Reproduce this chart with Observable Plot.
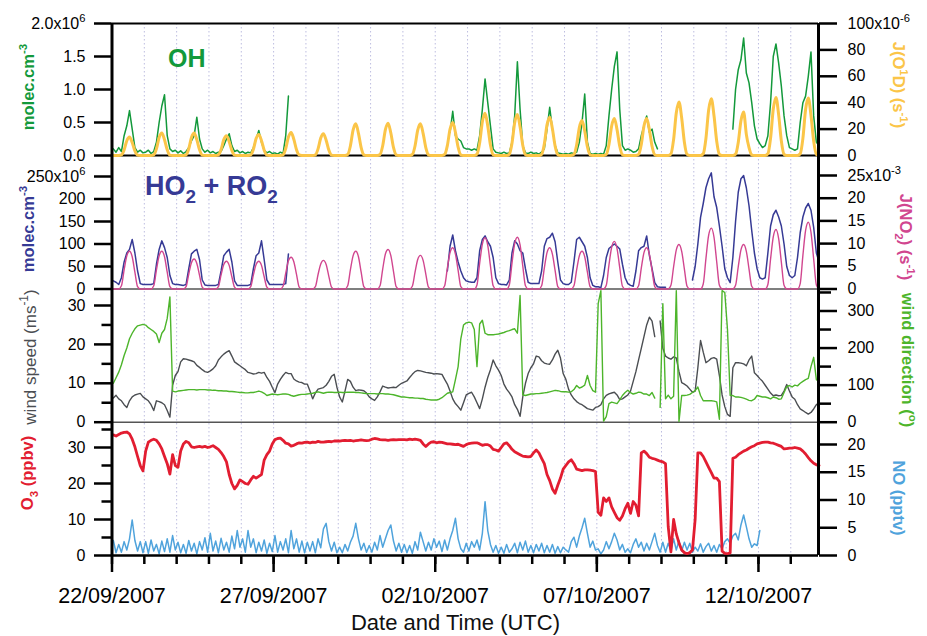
<!DOCTYPE html>
<html><head><meta charset="utf-8">
<script src="https://cdn.jsdelivr.net/npm/d3@7"></script>
<script src="https://cdn.jsdelivr.net/npm/@observablehq/plot@0.6"></script>
<style>
body{margin:0;background:#fff;}
#chart{position:relative;width:927px;height:636px;}
#chart svg{position:absolute;left:0;top:0;}
</style></head><body><div id="chart"></div>
<script>
const _ = null;
// time base: samples every 2 hours starting 22/09/2007 01:00 UTC, 12 per day
const startTime = Date.UTC(2007, 8, 22, 1);
const stepHours = 2;
const xStart = "2007-09-22T00:00Z", xEnd = "2007-10-13T20:35Z";
const xMajorTicks = ["2007-09-22","2007-09-27","2007-10-02","2007-10-07","2007-10-12"];
const xDayTicks = ["2007-09-22","2007-09-23","2007-09-24","2007-09-25","2007-09-26","2007-09-27","2007-09-28","2007-09-29","2007-09-30","2007-10-01","2007-10-02","2007-10-03","2007-10-04","2007-10-05","2007-10-06","2007-10-07","2007-10-08","2007-10-09","2007-10-10","2007-10-11","2007-10-12","2007-10-13"];

// OH (x10^6 molec cm-3)
const ohDays = [
[0.10,0.05,0.12,0.06,0.30,0.45,0.68,0.40,0.12,0.05,0.08,0.04],
[0.05,0.08,0.03,0.06,0.20,0.50,0.75,0.92,0.30,0.10,0.06,0.08],
[0.04,0.07,0.03,0.06,0.12,0.22,0.30,0.58,0.25,0.10,0.05,0.08],
[0.04,0.06,0.03,0.05,0.06,0.15,0.25,0.33,0.15,0.06,0.08,0.04],
[0.06,0.03,0.05,0.04,0.12,0.25,0.38,0.20,0.08,0.04,0.06,0.03],
[0.04,0.02,0.05,0.03,0.30,0.90,_,_,_,_,_,_],
[_,_,_,_,_,_,_,_,_,_,_,_],
[_,_,_,_,_,_,_,_,_,_,_,_],
[_,_,_,_,_,_,_,_,_,_,_,_],
[_,_,_,_,_,_,_,_,_,_,_,_],
[_,_,_,_,_,0.35,0.67,0.30,0.25,0.22,0.12,0.10],
[0.10,0.08,0.10,0.08,0.30,0.70,1.16,0.80,0.45,0.10,0.05,0.04],
[0.03,0.05,0.03,0.04,0.20,0.60,1.42,0.70,0.15,0.04,0.03,0.05],
[0.03,0.04,0.02,0.05,0.10,0.40,0.73,0.40,0.15,0.04,0.03,0.02],
[0.03,0.02,0.04,0.03,0.05,0.20,0.50,0.93,0.20,0.03,0.02,0.03],
[0.02,0.03,0.02,0.15,0.60,1.00,1.35,1.57,0.70,0.15,0.08,0.10],
[0.08,0.05,0.06,0.10,0.30,0.45,0.60,0.35,0.40,0.20,0.10,_],
[_,_,_,_,_,_,_,_,_,_,_,_],
[_,_,_,_,_,_,_,_,_,_,_,_],
[_,_,0.40,1.00,1.30,1.45,1.78,1.25,1.10,0.80,0.45,0.25],
[0.18,0.12,0.15,0.30,0.80,1.50,1.69,1.40,1.05,0.60,0.30,0.12],
[0.10,0.08,0.10,0.50,0.80,0.90,1.20,1.57,0.60,0.20,0.15]];

// J(O1D) (x10^-6 s-1)
const jo1dDays = [
[0,0,0,0.4,4.2,11.2,14,9.8,3.5,0.3,0,0],
[0,0,0,0.5,5.1,13.6,17,11.9,4.3,0.3,0,0],
[0,0,0,0.5,5.1,13.6,17,11.9,4.3,0.3,0,0],
[0,0,0,0.5,4.5,12,15,10.5,3.8,0.3,0,0],
[0,0,0,0.5,4.8,12.8,16,11.2,4,0.3,0,0],
[0,0,0,0.5,5.3,14,17.5,12.3,4.4,0.4,0,0],
[0,0,0,0.5,5,13.2,16.5,11.6,4.1,0.3,0,0],
[0,0,0,0.7,7.2,19.2,24,16.8,6,0.5,0,0],
[0,0,0,0.7,7.4,19.6,24.5,17.2,6.1,0.5,0,0],
[0,0,0,0.7,7.2,19.2,24,16.8,6,0.5,0,0],
[0,0,0,0.8,7.5,20,25,17.5,6.3,0.5,0,0],
[0,0,0,1,9.6,25.6,32,22.4,8,0.6,0,0],
[0,0,0,0.9,9.3,24.8,31,21.7,7.8,0.6,0,0],
[0,0,0,0.9,8.7,23.2,29,20.3,7.3,0.6,0,0],
[0,0,0,0.8,8,21.2,26.5,18.6,6.6,0.5,0,0],
[0,0,0,0.8,8.4,22.4,28,19.6,7,0.6,0,0],
[0,0,0,0.8,8.4,22.4,28,19.6,7,0.6,0,0],
[0,0,0,1.2,12.2,32.4,40.5,28.4,10.1,0.8,0,0],
[0,0,0,1.3,12.9,34.4,43,30.1,10.8,0.9,0,0],
[0,0,0,1,9.9,26.4,33,16,6,0.5,0,0],
[0,0,0,1.3,13.2,35.2,44,30.8,11,0.9,0,0],
[0,0,0,1.3,13,34.8,43.5,30.5,10.9,0.9,0]];

// HO2 + RO2 (x10^6 molec cm-3)
const ho2Days = [
[18,15,10,25,60,80,88,110,80,40,12,10],
[10,10,10,12,55,88,107,92,70,30,12,10],
[10,9,8,10,45,78,84,88,65,20,9,8],
[8,8,8,10,40,74,82,88,60,18,8,8],
[8,8,8,10,45,74,80,107,65,20,10,10],
[10,10,10,10,12,78,_,_,_,_,_,_],
[_,_,_,_,_,_,_,_,_,_,_,_],
[_,_,_,_,_,_,_,_,_,_,_,_],
[_,_,_,_,_,_,_,_,_,_,_,_],
[_,_,_,_,_,_,_,_,_,_,_,_],
[_,_,_,_,40,95,120,85,60,40,25,18],
[16,15,15,25,85,110,118,105,95,70,25,12],
[10,10,9,20,80,107,100,85,80,45,15,12],
[12,12,12,40,95,112,115,124,105,60,20,12],
[10,10,15,60,110,115,105,95,70,25,8,5],
[5,3,30,70,90,95,100,95,89,55,25,12],
[8,6,40,85,92,95,118,75,45,14,5,4],
[4,4,_,_,_,_,_,_,_,_,_,20],
[50,100,159,190,225,245,258,205,181,140,95,45],
[25,14,70,150,215,245,252,225,185,130,80,45],
[25,22,25,80,140,165,175,160,140,100,50,30],
[25,30,70,125,160,180,190,175,137,80,60]];

// J(NO2) (x10^-3 s-1)
const jno2Days = [
[0,0,0,0.7,4.2,7.3,8.3,7.1,3.7,0.5,0,0],
[0,0,0,0.7,4.2,7.3,8.3,7.1,3.7,0.5,0,0],
[0,0,0,0.5,3.3,5.8,6.6,5.6,3,0.4,0,0],
[0,0,0,0.5,3.1,5.4,6.1,5.2,2.7,0.4,0,0],
[0,0,0,0.5,3.1,5.4,6.1,5.2,2.7,0.4,0,0],
[0,0,0,0.6,3.5,6.2,7,6,3.2,0.4,0,0],
[0,0,0,0.5,3.2,5.5,6.3,5.4,2.8,0.4,0,0],
[0,0,0,0.7,4.2,7.3,8.3,7.1,3.7,0.5,0,0],
[0,0,0,0.7,4.4,7.7,8.7,7.4,3.9,0.5,0,0],
[0,0,0,0.6,3.7,6.5,7.4,6.3,3.3,0.4,0,0],
[0,0,0,0.7,4.6,8,9.1,7.7,4.1,0.5,0,0],
[0,0,0,0.9,5.7,9.9,11.3,9.6,5.1,0.7,0,0],
[0,0,0,0.9,5.7,10,11.4,9.7,5.1,0.7,0,0],
[0,0,0,0.7,4.6,8,9.1,7.7,4.1,0.5,0,0],
[0,0,0,0.7,4.2,7.3,8.3,7.1,3.7,0.5,0,0],
[0,0,0,0.8,5.3,9.2,10.5,8.9,4.7,0.6,0,0],
[0,0,0,0.7,4.6,8,9.1,7.7,4.1,0.5,0,0],
[0,0,0,0.8,4.9,8.6,9.8,8.3,4.4,0.6,0,0],
[0,0,0,1.1,6.7,11.8,13.4,11.4,6,0.8,0,0],
[0,0,0,0.8,4.9,8.6,9.8,8.3,4.4,0.6,0,0],
[0,0,0,1,6.6,11.5,13.1,11.1,5.9,0.8,0,0],
[0,0,0,1.2,7.4,12.9,14.7,12.5,6.6,0.9,0]];

// wind speed (m s-1)
const windSpeedDays = [
[6.2,6.9,6,5.5,4.5,3.8,5.5,6.5,7,7.2,7.4,6.5],
[6,5.5,4.5,3,5.5,5.3,5,4.5,3,1.3,9.5,12],
[13,15.5,16.3,16.2,16,15.8,15.5,14.6,14.1,13.5,13,12.8],
[13.2,13.7,14.5,16,16.8,17.5,18,18.4,17,15.5,15,14.5],
[14,13.5,12.8,12.6,12.4,12.5,12.8,12.6,12.8,11.5,10.5,9],
[7.6,9.8,11,12,12.8,12.5,12.5,11.1,10.6,10.3,10.2,9.8],
[9.8,8,6,7.5,8.5,8.7,8.9,9.5,10.5,11.8,12.3,9],
[6.5,5.2,8,11,10.5,9,8.1,8.3,8.2,8.1,7.5,6.5],
[6,5.6,6.5,7.8,9.3,9,8.8,8.9,9,8.9,9.5,10],
[10.3,10.6,11.5,12.3,13,13.3,13.2,13,12.8,12.7,12.6,12.4],
[12.5,12.4,12.3,11,9.8,8,6,4.8,4,3.1,5,7],
[7.4,7.7,6.5,5,3.5,6,9,11.5,13.5,16,14.5,13.4],
[12,9.8,8.5,7.6,6.5,4.5,3.3,1.5,6.5,10,12.5,14],
[15,17,16.8,15.8,15.2,15,14.9,16,17.5,18.5,16.5,12.5],
[11,8.5,7,6,5.3,4.8,4.5,4,3.5,3.3,3.1,3.8],
[4,4.5,6,6.9,7.3,7.5,7.7,7,5.8,6,6.5,7],
[8,10.5,13,16,19,22,25,27,26,22,_,26],
[19,17,16.5,16.2,16.8,16.5,13,10.2,9.8,9.3,8.5,7.7],
[8,14,21,18,15.3,15.8,16.4,16.6,16.2,12,7,4],
[2,1.5,14,15.3,15.3,15.2,15,14.5,16,17,12.7,12],
[11.2,10.5,9.5,8.5,7.5,6.8,7,6.8,6.9,8,9.7,8],
[6.5,5.9,4.5,3.4,3,2.5,2.1,2.5,3.4,4.5,5.1]];

// wind direction (degrees)
const windDirDays = [
[105,120,135,155,180,200,225,240,252,260,262,264],
[262,255,250,245,238,215,240,250,280,338,84,82],
[84,85,86,87,88,88,88,87,88,88,88,87],
[87,86,86,85,85,84,84,83,83,82,81,80],
[80,79,79,80,80,82,84,82,78,72,74,76],
[75,74,75,76,76,75,72,70,72,74,75,75],
[76,77,78,80,82,80,78,80,81,81,80,80],
[81,80,80,81,81,81,80,80,79,78,77,77],
[77,77,76,77,77,76,76,75,74,72,70,68],
[68,67,66,66,65,65,64,64,62,61,60,60],
[60,62,66,72,78,80,82,115,150,225,262,268],
[270,268,250,150,265,275,240,236,236,236,237,238],
[240,242,245,247,250,252,240,342,74,72,74,76],
[76,77,77,78,79,80,82,84,86,85,83,82],
[82,81,82,88,99,92,95,100,126,99,85,81],
[320,355,3,15,50,54,52,50,60,72,80,86],
[80,76,78,81,80,76,76,72,80,65,_,40],
[320,63,73,63,70,355,2,72,72,73,75,80],
[85,95,72,58,58,58,58,57,55,8,355,350],
[250,72,72,68,68,67,65,62,59,58,62,72],
[70,68,68,66,63,68,66,62,63,80,96,99],
[95,100,98,105,110,115,118,150,175,115,110]];

// O3 (ppbv)
const o3Days = [
[33.5,33.2,33.6,34,34.2,34.3,33.8,32.3,30.2,27.5,25,23.5],
[29,31.5,32,32.3,32,31,29.6,27.5,25.5,22.6,28,25],
[24.5,29,31,31.7,31.3,30.2,30,30.2,30.3,30.1,30.3,30],
[30.2,30.5,30,29.5,28.6,27.5,26,22.5,20,18.5,19.5,21],
[20.5,20,19.8,21,22,21.5,22,22.5,26.5,28,29,31],
[32.2,32.5,32.6,32,31.2,31,30.4,30.6,31,31.3,31.2,31.4],
[31.5,31.3,31.5,31.4,31.7,31.5,31.5,31.6,31.7,31.6,31.8,31.8],
[31.8,31.9,32,31.9,32,31.8,31.9,32,32.1,32,31.9,32],
[32.3,32.5,32.4,32.2,32.1,32.1,32,32.1,32.2,32.1,32.2,32.2],
[32.2,32.1,32.3,32.2,32.3,32.2,32,31,30.3,31,31.5,31.6],
[31.3,31.5,31.4,31.2,31,31,30.9,30.8,30.9,30.6,30.3,30.8],
[31.1,31.2,31.3,31.3,31,30.6,30.8,30.8,30.4,29.5,29.3,29],
[30,31,31.3,30.5,29.5,28.8,28.4,28,27.6,27.5,27.4,27.5],
[28.5,29.3,28.5,27,25.5,22.5,20.8,18.5,17.3,19.5,21.5,24],
[25,26,26.6,25.5,24,23.8,23.6,23.8,23.8,23.7,23.6,23.3],
[12,11.2,16,15,16,13.5,12,10.5,9.8,11,13,14.5],
[11.7,15,14,11,28.5,29,28.3,27.3,27,26.8,26.5,26.2],
[26,25.5,8,1,10,6,3.5,1.5,0.8,0.5,0.8,1.5],
[10,28.5,28.5,27.5,26,24.5,23,21.5,21.5,20.5,1.2,0.6],
[0.5,0.7,27,27.3,28,28.5,29,29.3,29.8,30.2,30.5,31],
[31.2,31.4,31.5,31.5,31.3,31.2,30.9,30.6,30.3,29.6,29.7,29.8],
[29.8,30,29.8,29.6,29,28.2,27.2,26.3,25.6,25.2,25]];

// NO (pptv)
const noDays = [
[2.7,0.5,2,0.6,2.5,1,3,6.4,2.7,0.8,2.5,0.5],
[2.5,0.4,2.8,0.8,2,0.3,2.6,0.7,3,0.6,3.6,1],
[2.4,0.5,2,0.4,2.7,0.8,2.2,0.3,2.5,1,3.2,0.6],
[4,0.8,2.6,0.5,3.1,1,2.4,0.6,3.5,1.2,4.5,1.5],
[3,0.6,4.5,1.5,3,0.5,2.4,0.8,2.8,0.4,2.2,0.7],
[3.6,0.6,2.5,1,3,0.5,4.5,1.2,3,0.6,2.6,0.5],
[2.4,0.8,2.5,0.5,3,1.4,4.8,5.8,2.5,0.8,2.4,0.5],
[1.5,0.5,2,0.8,2.4,3.5,5.8,3,1,2.2,0.6,1.8],
[0.6,2.4,1,3.6,1.5,3,4.5,5.5,2.6,0.8,2.2,0.6],
[2,0.5,1.8,0.4,2.5,1,4.2,2.5,0.8,2.4,1,3],
[1.5,2.6,0.7,2.8,1,3,4.5,6.7,3,1.2,0.6,2.2],
[0.8,2.5,1.5,2.8,1,4,9.7,4.5,2,0.6,1.8,0.4],
[1.5,0.4,2,0.6,1.2,2.2,0.5,2.4,1,2.6,0.6,1.8],
[0.5,2,0.8,2.2,0.5,1.8,0.6,2,0.4,1.6,0.5,1.5],
[1,0.6,2.5,3.3,1.5,3.5,5,6.7,4,1.5,2.6,1],
[1.2,0.3,1,2.5,1.2,2.5,4,2.8,1,2,0.6,1.2],
[0.5,2,3,1.5,2.4,0.8,2.2,1,2.5,4,1.8,0.6],
[2.4,0.6,2.2,0.8,3,1,2.7,0.8,2.4,1,2.2,0.6],
[1.5,0.8,2.1,0.6,1.6,2.2,0.8,1.8,0.6,2,1.2,2.5],
[3,2.2,3.5,4,2.8,5.5,7.3,5.2,3,1.5,2.1,1.8],
[4.5]];

// axis tick values
const ohTicks = [0, 0.5, 1, 1.5, 2];
const jo1dTicks = [0, 20, 40, 60, 80, 100];
const ho2Ticks = [0, 50, 100, 150, 200, 250];
const jno2Ticks = [0, 5, 10, 15, 20, 25];
const wsTicks = [0, 10, 20, 30], wsMinor = [5, 15, 25];
const wdTicks = [0, 100, 200, 300], wdMinor = [50, 150, 250, 350];
const o3Ticks = [0, 10, 20, 30], o3Minor = [5, 15, 25, 35];
const noTicks = [0, 5, 10, 15, 20];

const oh = ohDays.flat(), jo1d = jo1dDays.flat(), ho2 = ho2Days.flat(), jno2 = jno2Days.flat();
const windSpeed = windSpeedDays.flat(), windDir = windDirDays.flat(), o3 = o3Days.flat(), no = noDays.flat();
const timeAt = i => new Date(startTime + i * stepHours * 3600000);

const W = 927, H = 636, ML = 111.5, MR = W - 818;
const FONT = '"Liberation Sans", Arial, Helvetica, sans-serif';
const COL = {oh:"#13993b", jo1d:"#fbc548", ho2:"#363a95", jno2:"#d1468f", ws:"#4b4e52", wd:"#4db52b", o3:"#e21d31", no:"#4fa3dc"};
const xDomain = [new Date(xStart), new Date(xEnd)];
const dayDates = xDayTicks.map(d => new Date(d));
const majorDates = xMajorTicks.map(d => new Date(d));
const container = document.getElementById("chart");

function rich(node, str, fs) {
  const sel = d3.select(node);
  sel.text(null);
  const parts = str.split(/(\^\{[^}]*\}|_\{[^}]*\})/).filter(s => s !== "");
  let shift = 0;
  for (const p of parts) {
    let txt = p, s = 0, small = false;
    if (p.startsWith("^{")) { txt = p.slice(2, -1); s = -0.42 * fs; small = true; }
    else if (p.startsWith("_{")) { txt = p.slice(2, -1); s = 0.28 * fs; small = true; }
    const t = sel.append("tspan").text(txt);
    const dy = s - shift;
    if (dy !== 0) t.attr("dy", dy);
    if (small) t.attr("font-size", 0.7 * fs);
    shift = s;
  }
}

function layer(marks, y) {
  const svg = Plot.plot({
    width: W, height: H, marginLeft: ML, marginRight: MR, marginTop: 23, marginBottom: H - 555,
    style: {background: "transparent", overflow: "visible", fontFamily: FONT, color: "black"},
    x: {type: "utc", domain: xDomain, axis: null},
    y: y ? {...y, axis: null} : {axis: null},
    marks
  });
  d3.select(svg).selectAll("text").each(function () {
    const s = this.textContent;
    if (/[\^_]\{/.test(s)) rich(this, s, 16);
  });
  container.appendChild(svg);
  return svg;
}

function series(arr, stroke, strokeWidth, curve = "linear") {
  return Plot.lineY(arr, {x: (d, i) => timeAt(i), y: d => d, stroke, strokeWidth, curve});
}
function leftAxis(ticks, fmt) {
  return Plot.axisY(ticks, {anchor: "left", tickSize: 17.5, tickPadding: 9, tickFormat: fmt, fontSize: 16, strokeWidth: 2.5, label: null});
}
function rightAxis(ticks, fmt) {
  return Plot.axisY(ticks, {anchor: "right", tickSize: 18, tickPadding: 11, tickFormat: fmt, fontSize: 16, strokeWidth: 2.5, label: null});
}
function minorAxis(ticks, anchor) {
  return Plot.axisY(ticks, {anchor, tickSize: anchor === "left" ? 10 : 12, tickFormat: () => "", strokeWidth: 2.5, label: null});
}

// base: dotted daily grid
layer([Plot.ruleX(dayDates, {stroke: "#bdbde0", strokeWidth: 1, strokeDasharray: "1.5,2.5"})]);

// panel 1: OH and J(O1D)
layer([
  Plot.ruleY([0, 2], {stroke: "black", strokeWidth: 2}),
  series(oh, COL.oh, 1.5),
  leftAxis(ohTicks, d => d === 2 ? "2.0x10^{6}" : d.toFixed(1))
], {domain: [0, 2], range: [155, 23]});
layer([
  series(jo1d, COL.jo1d, 3, "monotone-x"),
  rightAxis(jo1dTicks, d => d === 100 ? "100x10^{-6}" : String(d))
], {domain: [0, 100], range: [155, 23]});

// panel 2: HO2+RO2 and J(NO2)
layer([
  Plot.ruleY([0], {stroke: "#555", strokeWidth: 1.5}),
  series(ho2, COL.ho2, 1.5),
  leftAxis(ho2Ticks, d => d === 250 ? "250x10^{6}" : String(d))
], {domain: [0, 250], range: [288.5, 176]});
layer([
  series(jno2, COL.jno2, 1.4, "monotone-x"),
  rightAxis(jno2Ticks, d => d === 25 ? "25x10^{-3}" : String(d))
], {domain: [0, 25], range: [288.5, 175]});

// panel 3: wind speed and direction
layer([
  Plot.ruleY([0], {stroke: "#555", strokeWidth: 1.5}),
  series(windSpeed, COL.ws, 1.4),
  leftAxis(wsTicks, d => String(d)),
  minorAxis(wsMinor, "left")
], {domain: [0, 30], range: [421.7, 305]});
layer([
  series(windDir, COL.wd, 1.4),
  rightAxis(wdTicks, d => String(d)),
  minorAxis(wdMinor, "right")
], {domain: [0, 300], range: [421.7, 310.5]});

// panel 4: NO and O3
layer([
  series(no, COL.no, 1.5),
  rightAxis(noTicks, d => String(d))
], {domain: [0, 20], range: [555, 444]});
layer([
  Plot.ruleY([0], {stroke: "black", strokeWidth: 2.5}),
  series(o3, COL.o3, 2.8),
  leftAxis(o3Ticks, d => String(d)),
  minorAxis(o3Minor, "left")
], {domain: [0, 30], range: [555, 447]});

// top: axis lines and time axis
const topSvg = layer([
  Plot.ruleX(xDomain, {stroke: "black", strokeWidth: 3}),
  Plot.axisX(dayDates, {anchor: "bottom", tickSize: 9, tickFormat: () => "", strokeWidth: 2.5, label: null}),
  Plot.axisX(majorDates, {anchor: "bottom", tickSize: 17, tickPadding: 15, tickFormat: d3.utcFormat("%d/%m/%Y"), fontSize: 21.5, strokeWidth: 2.5, label: null})
]);

function label(str, x, y, rotate, fs, weight, fill, anchor = "middle") {
  const t = d3.select(topSvg).append("text")
    .attr("transform", `translate(${x},${y}) rotate(${rotate})`)
    .attr("text-anchor", anchor).attr("font-size", fs).attr("font-weight", weight)
    .attr("fill", fill).attr("font-family", FONT);
  rich(t.node(), str, fs);
}
label("OH", 168, 67, 0, 25, "bold", COL.oh, "start");
label("HO_{2} + RO_{2}", 145, 195, 0, 27, "bold", COL.ho2, "start");
label("molec.cm^{-3}", 34, 87, -90, 16.5, "bold", COL.oh);
label("molec.cm^{-3}", 34, 229, -90, 16.5, "bold", COL.ho2);
label("wind speed (ms^{-1})", 35.5, 357, -90, 17, "normal", COL.ws);
label("O_{3} (ppbv)", 33, 473, -90, 16.5, "bold", COL.o3);
label("J(O^{1}D) (s^{-1})", 893, 85, 90, 16.5, "bold", COL.jo1d);
label("J(NO_{2}) (s^{-1})", 900, 237, 90, 16.5, "bold", COL.jno2);
label("wind direction (^{o})", 902, 360, 90, 16.5, "bold", COL.wd);
label("NO (pptv)", 893, 498, 90, 16.5, "bold", COL.no);
label("Date and Time (UTC)", 455.5, 630, 0, 22, "normal", "#111");
</script></body></html>
